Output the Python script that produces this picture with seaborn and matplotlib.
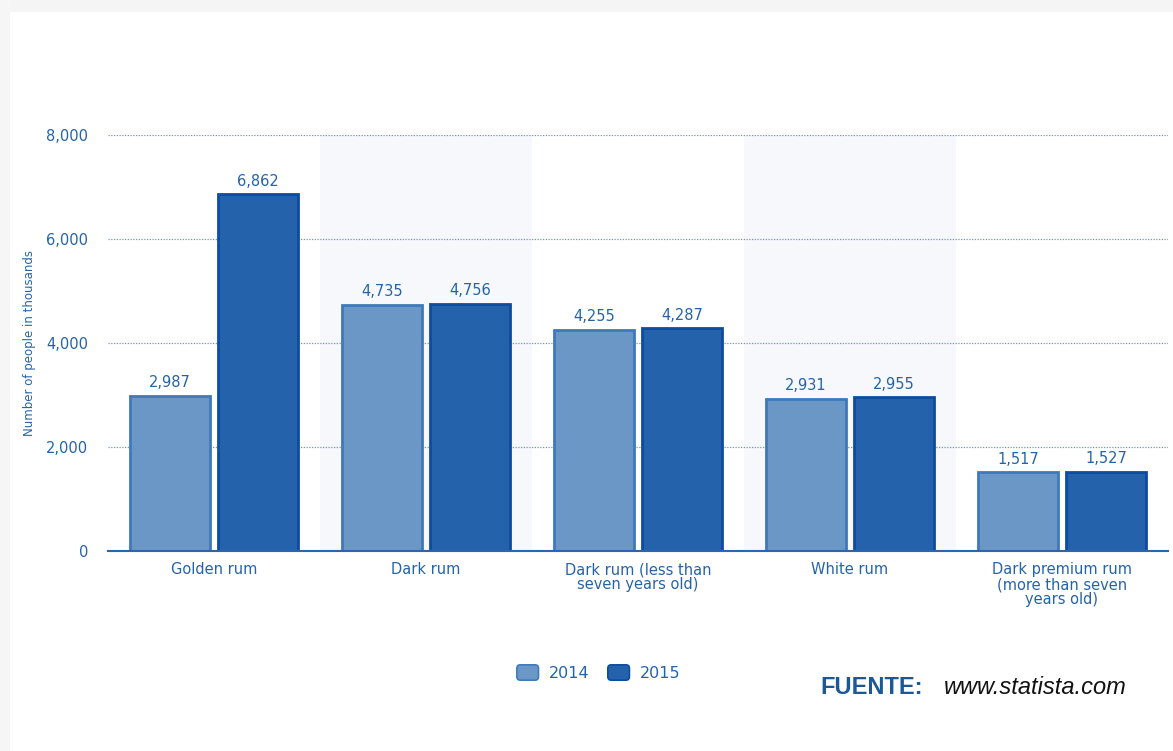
import matplotlib
matplotlib.use("Agg")
import matplotlib.pyplot as plt
import seaborn as sns
import pandas as pd
from matplotlib.patches import FancyBboxPatch, Rectangle
from matplotlib.legend_handler import HandlerPatch

categories = [
    "Golden rum",
    "Dark rum",
    "Dark rum (less than\nseven years old)",
    "White rum",
    "Dark premium rum\n(more than seven\nyears old)",
]
years = ["2014", "2015"]
values_2014 = [2987, 4735, 4255, 2931, 1517]
values_2015 = [6862, 4756, 4287, 2955, 1527]
y_ticks = [0, 2000, 4000, 6000, 8000]

df = pd.DataFrame({
    "category": categories * 2,
    "year": [years[0]] * len(categories) + [years[1]] * len(categories),
    "value": values_2014 + values_2015,
})

sns.set_theme(style="white")
plt.rcParams["font.family"] = ["DejaVu Sans"]

BLUE_TEXT = "#2563a8"
FILL = {"2014": "#6b97c7", "2015": "#2462ab"}
EDGE = {"2014": "#3f79ba", "2015": "#0d4c9e"}

fig = plt.figure(figsize=(11.73, 7.51), dpi=100)
fig.patch.set_facecolor("white")

# soft grey frame along the top and left edges of the card
fig.patches.append(Rectangle((0, 1 - 12 / 751), 1, 12 / 751, transform=fig.transFigure,
                             facecolor="#f5f5f5", edgecolor="none", zorder=0))
fig.patches.append(Rectangle((0, 0), 10 / 1173, 1, transform=fig.transFigure,
                             facecolor="#f6f6f6", edgecolor="none", zorder=0))

ax = fig.add_axes([0.092, 0.2663, 0.9037, 0.554])

# alternating column shading
for i in range(len(categories)):
    if i % 2 == 1:
        ax.axvspan(i - 0.5, i + 0.5, color="#f7f8fb", zorder=0, lw=0)

sns.barplot(data=df, x="category", y="value", hue="year", order=categories,
            hue_order=years, palette=FILL, width=0.83, gap=0.1,
            saturation=1, ax=ax, zorder=3, legend=False)

for container, yr in zip(ax.containers, years):
    for bar in container:
        bar.set_edgecolor(EDGE[yr])
        bar.set_linewidth(2.0)
    ax.bar_label(container, labels=[f"{v:,.0f}" for v in container.datavalues],
                 padding=4, color=BLUE_TEXT, fontsize=10.5)

ax.set_xlim(-0.5, len(categories) - 0.5)
ax.set_ylim(0, 8000)
ax.set_yticks(y_ticks)
ax.set_yticklabels([f"{t:,}" for t in y_ticks], color=BLUE_TEXT, fontsize=10.5)
ax.tick_params(axis="y", length=0, pad=14)
ax.tick_params(axis="x", length=0, pad=8)
for lbl in ax.get_xticklabels():
    lbl.set_color(BLUE_TEXT)
    lbl.set_fontsize(10.5)
    lbl.set_linespacing(1.0)

for t in y_ticks[1:]:
    ax.axhline(t, color="#6a93dc", lw=0.9, ls=(0, (1, 1.2)), zorder=1)

for s in ["top", "right", "left"]:
    ax.spines[s].set_visible(False)
ax.spines["bottom"].set_color("#2b66ae")
ax.spines["bottom"].set_linewidth(1.5)
ax.spines["bottom"].set_zorder(5)

ax.set_xlabel("")
ax.set_ylabel("Number of people in thousands", color=BLUE_TEXT, fontsize=8.5,
              labelpad=12)
ax.yaxis.set_label_coords(-0.068, 0.5)
ax.set_facecolor("white")


class RoundBoxHandler(HandlerPatch):
    def create_artists(self, legend, orig_handle, xdescent, ydescent, width,
                       height, fontsize, trans):
        p = FancyBboxPatch((-xdescent + 2, -ydescent), width - 4, height,
                           boxstyle="round,pad=0,rounding_size=2.5",
                           facecolor=orig_handle.get_facecolor(),
                           edgecolor=orig_handle.get_edgecolor(), lw=1.2,
                           transform=trans)
        return [p]


handles = [plt.Rectangle((0, 0), 1, 1, facecolor=FILL[y], edgecolor=EDGE[y])
           for y in years]
leg = fig.legend(handles, years, loc="center", bbox_to_anchor=(0.509, 0.104),
                 ncol=2, frameon=False, fontsize=11.5, handlelength=1.7,
                 handleheight=1.1, handletextpad=0.45, columnspacing=1.0,
                 handler_map={plt.Rectangle: RoundBoxHandler()})
for txt in leg.get_texts():
    txt.set_color(BLUE_TEXT)

fig.text(0.699, 0.084, "FUENTE:", fontsize=17, fontweight="bold",
         color="#1d5896", family=["Liberation Sans"], va="center")
fig.text(0.805, 0.084, "www.statista.com", fontsize=17, style="italic",
         color="#111111", family=["Liberation Sans"], va="center")

fig.savefig("out.png", dpi=100, facecolor="white")
